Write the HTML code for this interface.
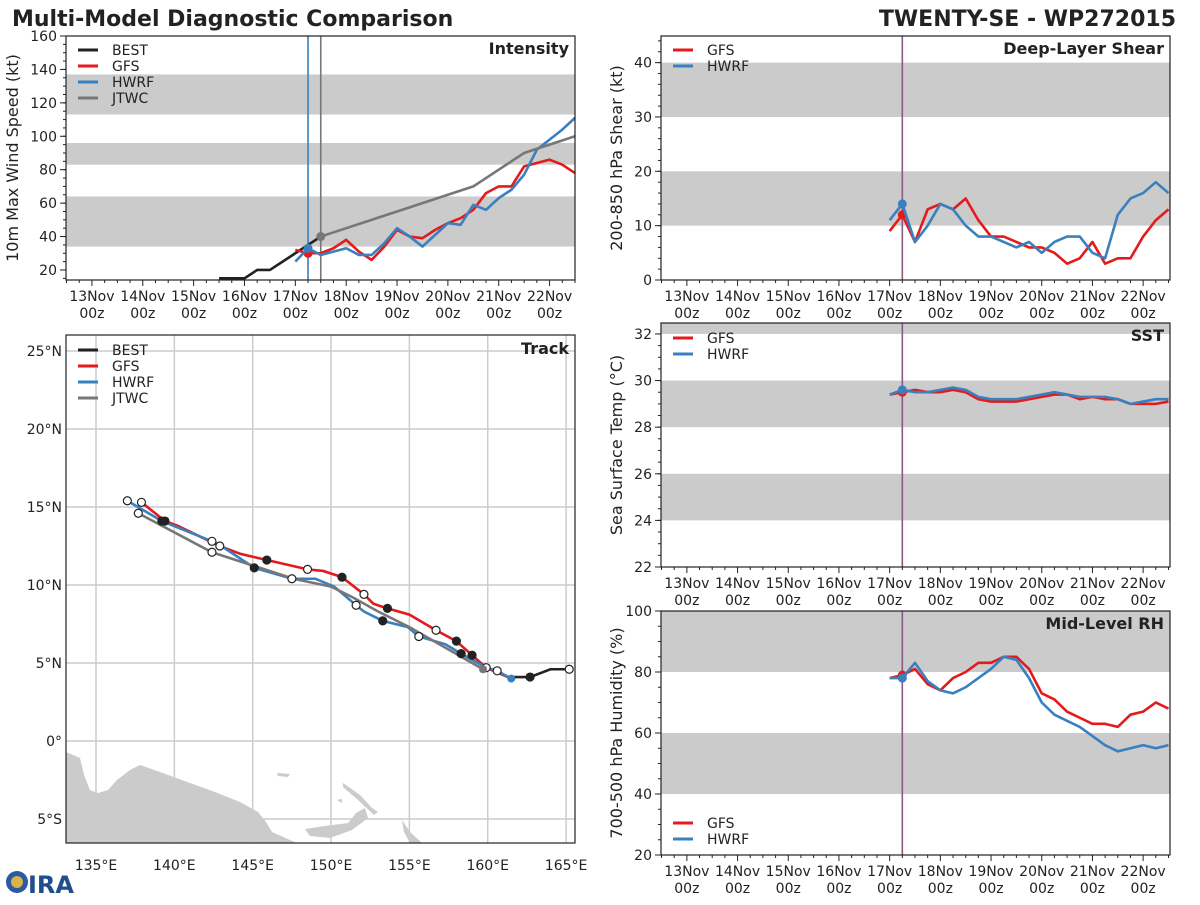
<!DOCTYPE html>
<html><head><meta charset="utf-8"><style>
body{margin:0;background:#fff;}
svg text{font-family:"DejaVu Sans","Liberation Sans",sans-serif;fill:#222;}
</style></head><body>
<svg id="s" width="1200" height="900" xmlns="http://www.w3.org/2000/svg">
<text x="12" y="26" font-size="22" font-weight="bold">Multi-Model Diagnostic Comparison</text>
<text x="1176" y="26" font-size="22" font-weight="bold" text-anchor="end">TWENTY-SE - WP272015</text>
<g>
<circle cx="17" cy="882" r="11" fill="#2b5aa0"/><circle cx="17" cy="882" r="6" fill="#d9b24a"/>
<text x="28" y="893" font-size="24" font-weight="bold" style="fill:#1f4e8c">IRA</text></g>
</svg>
<script>
// ---- data ----
const days6 = [17,17.25,17.5,17.75,18,18.25,18.5,18.75,19,19.25,19.5,19.75,20,20.25,20.5,20.75,21,21.25,21.5,21.75,22,22.25,22.5];
const bestDays = [15.5,15.75,16,16.25,16.5,16.75,17,17.25,17.5];
const bestInt = [15,15,15,20,20,25,30,35,40];
const gfsInt = [32,30,30,33,38,31,26,34,44,40,39,44,48,51,56,66,70,70,82,84,86,83,78];
const hwrfInt = [25,33,29,31,33,29,29,36,45,40,34,41,48,47,59,56,63,68,77,92,98,104,111];
const jtwcDays = [17.5,18,18.5,19,19.5,20,20.5,21,21.5,22,22.5];
const jtwcInt = [40,45,50,55,60,65,70,80,90,95,100];
const gfsShear = [9,12,7,13,14,13,15,11,8,8,7,6,6,5,3,4,7,3,4,4,8,11,13];
const hwrfShear = [11,14,7,10,14,13,10,8,8,7,6,7,5,7,8,8,5,4,12,15,16,18,16];
const gfsSst = [29.4,29.5,29.6,29.5,29.5,29.6,29.5,29.2,29.1,29.1,29.1,29.2,29.3,29.4,29.4,29.2,29.3,29.2,29.2,29.0,29.0,29.0,29.1];
const hwrfSst = [29.4,29.6,29.5,29.5,29.6,29.7,29.6,29.3,29.2,29.2,29.2,29.3,29.4,29.5,29.4,29.3,29.3,29.3,29.2,29.0,29.1,29.2,29.2];
const gfsRh = [78,79,81,76,74,78,80,83,83,85,85,81,73,71,67,65,63,63,62,66,67,70,68];
const hwrfRh = [78,78,83,77,74,73,75,78,81,85,84,78,70,66,64,62,59,56,54,55,56,55,56];
const dayTicks = [13,14,15,16,17,18,19,20,21,22];
// track [lon,lat]
const bestLon=[165.2,164.0,162.7,161.6]; const bestLat=[4.6,4.6,4.1,4.1];
const gfsLon=[161.5,159.9,159.0,158.0,156.7,155.0,153.6,152.7,152.1,150.7,149.5,148.5,145.9,144.2,142.9,140.2,139.4,137.9];
const gfsLat=[4.0,4.7,5.5,6.4,7.1,8.1,8.5,8.8,9.4,10.5,10.9,11.0,11.6,12.0,12.5,13.8,14.1,15.3];
const hwrfLon=[161.5,160.6,159.9,158.3,157.3,155.6,154.9,153.3,152.1,151.6,150.2,149.0,147.5,145.1,143.0,142.4,139.2,137.0];
const hwrfLat=[4.0,4.5,4.7,5.6,6.2,6.7,7.3,7.7,8.3,8.7,9.9,10.4,10.4,11.1,12.5,12.8,14.1,15.4];
const jtwcLon=[159.7,155.0,153.0,151.4,150.0,147.6,142.4,137.7];
const jtwcLat=[4.6,7.3,8.3,9.2,9.9,10.4,12.1,14.6];
// marker types: 1 open, 2 filled
const bestMk=[1,0,2,0];
const gfsMk=[0,1,2,2,1,0,2,0,1,2,0,1,2,0,1,0,2,1];
const hwrfMk=[0,1,0,2,0,1,0,2,0,1,0,0,1,2,0,1,2,1];
const jtwcMk=[0,0,0,0,0,0,1,1];

const S=document.getElementById('s'), NS='http://www.w3.org/2000/svg';
function el(t,a,p){const e=document.createElementNS(NS,t);for(const k in a)e.setAttribute(k,a[k]);(p||S).appendChild(e);return e;}
function txt(x,y,s,a,p){const e=el('text',Object.assign({x:x,y:y,'font-size':14},a||{}),p);e.textContent=s;return e;}
const RED='#e41a1c',BLUE='#3a80bf',GREY='#777',BLK='#222';

function panel(o){
  const g=el('g',{});
  
  
  const X=d=>o.x0+(d-o.d0)*(o.x1-o.x0)/(o.d1-o.d0);
  const Y=v=>o.y1-(v-o.v0)*(o.y1-o.y0)/(o.v1-o.v0);
  o.bands.forEach(b=>{const top=Math.min(b[1],o.v1);const r=el('rect',{x:o.x0,y:Y(top),width:o.x1-o.x0,height:Y(b[0])-Y(top),fill:'#cbcbcb'},g);
    
    });
  (o.vlines||[]).forEach(v=>el('line',{x1:X(v[0]),x2:X(v[0]),y1:o.y0,y2:o.y1,stroke:v[1],'stroke-width':1.6},g));
  o.series.forEach(s=>{
    const pts=s.d.map((d,i)=>X(d)+','+Y(s.v[i])).join(' ');
    const l=el('polyline',{points:pts,fill:'none',stroke:s.c,'stroke-width':2.6,'stroke-linejoin':'round'},g);
    
    
    if(s.m!=null){const c=el('circle',{cx:X(s.d[s.m]),cy:Y(s.v[s.m]),r:4.5,fill:s.c},g);
      
      }
  });
  el('rect',{x:o.x0,y:o.y0,width:o.x1-o.x0,height:o.y1-o.y0,fill:'none',stroke:'#222','stroke-width':1.2},g);
  o.yt.forEach(v=>{el('line',{x1:o.x0-6,x2:o.x0,y1:Y(v),y2:Y(v),stroke:'#222'},g);
    const t=txt(o.x0-9,Y(v)+5,String(v),{'text-anchor':'end'},g);
    
    });
  for(let v=o.yt[0]-o.ym;v<=o.v1;v+=o.ym){if(v>=o.v0)el('line',{x1:o.x0-3,x2:o.x0,y1:Y(v),y2:Y(v),stroke:'#222'},g);}
  dayTicks.forEach(d=>{el('line',{x1:X(d),x2:X(d),y1:o.y1,y2:o.y1+6,stroke:'#222'},g);
    const t=txt(X(d),o.y1+21,d+'Nov',{'text-anchor':'middle'},g);
    
    
    txt(X(d),o.y1+38,'00z',{'text-anchor':'middle'},g);});
  for(let d=12.5;d<=o.d1;d+=0.25){const x=X(d);if(x>=o.x0&&Math.abs(d-Math.round(d))>0.01)el('line',{x1:x,x2:x,y1:o.y1,y2:o.y1+3,stroke:'#222'},g);}
  const yl=txt(0,0,o.ylab,{'font-size':16,'text-anchor':'middle',transform:`translate(${o.yl},${(o.y0+o.y1)/2}) rotate(-90)`},g);
  
  
  const tt=txt(o.x1-6,o.y0+18,o.title,{'font-size':16,'font-weight':'bold','text-anchor':'end'},g);
  
  
  const lg=el('g',{},g);
  
  
  o.leg.forEach((e,i)=>{const y=o.legy+i*16;el('line',{x1:o.x0+12,x2:o.x0+32,y1:y,y2:y,stroke:e[1],'stroke-width':3},lg);
    const t=txt(o.x0+46,y+5,e[0],{},lg);
    
    });
}
const L=[['GFS',RED],['HWRF',BLUE]];
panel({name:'intensity-panel',x0:66,x1:575,y0:36,y1:280,d0:12.49,d1:22.5,v0:14,v1:160,bands:[[34,64],[83,96],[113,137]],
 vlines:[[17.25,BLUE],[17.5,GREY]],series:[{n:'best',c:BLK,d:bestDays,v:bestInt},{n:'gfs',c:RED,d:days6,v:gfsInt,m:1},{n:'hwrf',c:BLUE,d:days6,v:hwrfInt,m:1},{n:'jtwc',c:GREY,d:jtwcDays,v:jtwcInt,m:0}],
 yt:[20,40,60,80,100,120,140,160],ym:5,ylab:'10m Max Wind Speed (kt)',yl:18,title:'Intensity',leg:[['BEST',BLK],['GFS',RED],['HWRF',BLUE],['JTWC',GREY]],legy:50});
panel({name:'shear-panel',x0:661,x1:1170,y0:36,y1:280,d0:12.49,d1:22.53,v0:0,v1:44.9,bands:[[10,20],[30,40]],
 vlines:[[17.25,'#8a5a80']],series:[{n:'gfs',c:RED,d:days6,v:gfsShear,m:1},{n:'hwrf',c:BLUE,d:days6,v:hwrfShear,m:1}],
 yt:[0,10,20,30,40],ym:2,ylab:'200-850 hPa Shear (kt)',yl:622,title:'Deep-Layer Shear',leg:L,legy:50});
panel({name:'sst-panel',x0:661,x1:1170,y0:323,y1:567,d0:12.49,d1:22.53,v0:22,v1:32.47,bands:[[24,26],[28,30],[32,33]],
 vlines:[[17.25,'#8a5a80']],series:[{n:'gfs',c:RED,d:days6,v:gfsSst,m:1},{n:'hwrf',c:BLUE,d:days6,v:hwrfSst,m:1}],
 yt:[22,24,26,28,30,32],ym:0.5,ylab:'Sea Surface Temp (°C)',yl:622,title:'SST',leg:L,legy:338});
panel({name:'rh-panel',x0:661,x1:1170,y0:611,y1:855,d0:12.49,d1:22.53,v0:20,v1:100,bands:[[40,60],[80,100]],
 vlines:[[17.25,'#8a5a80']],series:[{n:'gfs',c:RED,d:days6,v:gfsRh,m:1},{n:'hwrf',c:BLUE,d:days6,v:hwrfRh,m:1}],
 yt:[20,40,60,80,100],ym:5,ylab:'700-500 hPa Humidity (%)',yl:622,title:'Mid-Level RH',leg:L,legy:823});

// ---- track ----
(function(){
 const x0=66,x1=575,y0=335,y1=843;
 const g=el('g',{});
 
 
 const X=lon=>96+(lon-135)*15.67, Y=lat=>741-lat*15.6;
 const land=[[[66,752],[80,758],[84,775],[90,790],[98,793],[108,790],[117,780],[130,770],[140,765],[160,772],[190,783],[215,792],[240,802],[258,812],[266,822],[272,832],[290,840],[297,843],[66,843]],
  [[305,829],[325,826],[348,823],[356,813],[365,808],[368,818],[352,830],[330,838],[310,836]],
  [[343,783],[360,795],[372,808],[378,812],[374,815],[358,800],[343,787]],
  [[402,820],[410,832],[422,843],[410,843],[404,832]],[[84,828],[92,827],[94,843],[84,843]],
  [[277,773],[290,774],[288,777],[278,776]],[[337,800],[342,799],[342,803]]];
 land.forEach(p=>{const e=el('polygon',{points:p.map(q=>q.join(',')).join(' '),fill:'#cbcbcb'},g);
   
   });
 [135,140,145,150,155,160,165].forEach(l=>{el('line',{x1:X(l),x2:X(l),y1:y0,y2:y1,stroke:'#ccc','stroke-width':1.5},g);
   const t=txt(X(l),y1+27,l+'°E',{'text-anchor':'middle'},g);
   
   });
 [[25,'25°N'],[20,'20°N'],[15,'15°N'],[10,'10°N'],[5,'5°N'],[0,'0°'],[-5,'5°S']].forEach(a=>{el('line',{x1:x0,x2:x1,y1:Y(a[0]),y2:Y(a[0]),stroke:'#ccc','stroke-width':1.5},g);
   const t=txt(x0-4,Y(a[0])+5,a[1],{'text-anchor':'end'},g);
   
   });
 const tr=[['best',BLK,bestLon,bestLat,bestMk],['gfs',RED,gfsLon,gfsLat,gfsMk],['hwrf',BLUE,hwrfLon,hwrfLat,hwrfMk],['jtwc',GREY,jtwcLon,jtwcLat,jtwcMk]];
 tr.forEach(t=>{const l=el('polyline',{points:t[2].map((lo,i)=>X(lo)+','+Y(t[3][i])).join(' '),fill:'none',stroke:t[1],'stroke-width':2.6},g);
   
   });
 tr.forEach(t=>t[2].forEach((lo,i)=>{const m=t[4][i];if(!m)return;const c=el('circle',{cx:X(lo),cy:Y(t[3][i]),r:4,fill:m==1?'#fff':'#222',stroke:'#222','stroke-width':1.2},g);
   
   }));
 el('circle',{cx:X(hwrfLon[0]),cy:Y(hwrfLat[0]),r:4,fill:BLUE},g);
 el('circle',{cx:X(jtwcLon[0]),cy:Y(jtwcLat[0]),r:4,fill:GREY},g);
 el('rect',{x:x0,y:y0,width:x1-x0,height:y1-y0,fill:'none',stroke:'#222','stroke-width':1.2},g);
 const tt=txt(x1-6,y0+19,'Track',{'font-size':16,'font-weight':'bold','text-anchor':'end'},g);
 
 
 const lg=el('g',{},g);
 
 
 [['BEST',BLK],['GFS',RED],['HWRF',BLUE],['JTWC',GREY]].forEach((e,i)=>{const y=350+i*16;el('line',{x1:x0+12,x2:x0+32,y1:y,y2:y,stroke:e[1],'stroke-width':3},lg);
   const t=txt(x0+46,y+5,e[0],{},lg);
   
   });
})();
</script>
</body></html>
